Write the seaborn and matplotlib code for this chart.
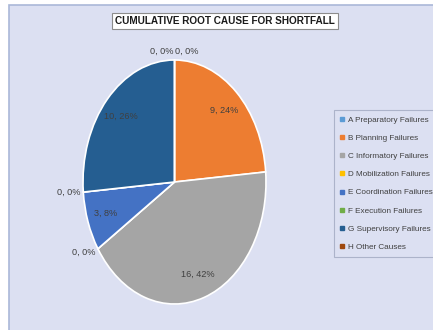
import matplotlib
matplotlib.use("Agg")
import matplotlib.pyplot as plt
import seaborn as sns
import numpy as np
from matplotlib.patches import Rectangle
from matplotlib.lines import Line2D

categories = ["A Preparatory Failures", "B Planning Failures", "C Informatory Failures",
              "D Mobilization Failures", "E Coordination Failures", "F Execution Failures",
              "G Supervisory Failures", "H Other Causes"]
values = [0, 9, 16, 0, 3, 0, 10, 0]
title = "CUMULATIVE ROOT CAUSE FOR SHORTFALL"

colors = ["#5B9BD5", "#ED7D31", "#A5A5A5", "#FFC000", "#4472C4", "#70AD47", "#255E91", "#9E480E"]

sns.set_theme(style="white")
plt.rcParams["font.family"] = ["Liberation Sans", "DejaVu Sans"]

W, H = 433, 330
fig = plt.figure(figsize=(W / 100, H / 100), dpi=100)
fig.patch.set_facecolor("white")
bg = Rectangle((9 / W, -0.01), 1.0, (H - 5) / H + 0.01, transform=fig.transFigure,
               facecolor="#DCE0F2", edgecolor="#AAB8D8", lw=1.2, zorder=-10)
fig.patches.append(bg)

ax = fig.add_axes([83 / W, 26 / H, 183 / W, 244 / H])
wedges, _ = ax.pie(values, colors=colors, startangle=90, counterclock=False,
                   wedgeprops=dict(edgecolor="white", linewidth=1.2))
ax.set_aspect("auto")
ax.set_xlim(-1, 1)
ax.set_ylim(-1, 1)
ax.axis("off")

lab_fs = 6.6
total = sum(values)
for i, (w, v) in enumerate(zip(wedges, values)):
    mid = np.deg2rad((w.theta1 + w.theta2) / 2)
    txt = f"{v}, {round(v / total * 100)}%"
    c, s = np.cos(mid), np.sin(mid)
    if v > 0:
        ax.text(0.8 * c, 0.8 * s, txt, ha="center", va="center", fontsize=lab_fs, color="#404040")
    else:
        if abs(c) < 0.05:
            ha = "left" if i == 0 else "right"
            x = 0.01 if i == 0 else -0.01
            ax.text(x, 1.07, txt, ha=ha, va="center", fontsize=lab_fs, color="#404040")
        else:
            ha = "right" if c < 0 else "left"
            ax.text(1.03 * c, 1.06 * s, txt, ha=ha, va="center", fontsize=lab_fs, color="#404040")

fig.text(225 / W, (H - 21) / H, title, ha="center", va="center", fontsize=7.2, fontweight="bold",
         color="#1a1a1a",
         bbox=dict(boxstyle="square,pad=0.3", facecolor="white", edgecolor="#8C8C8C", lw=0.8))

handles = [Line2D([], [], marker="s", linestyle="none", markersize=2.8, color=c) for c in colors]
leg = fig.legend(handles, categories, loc="upper left", bbox_to_anchor=(334 / W, (H - 110) / H),
                 frameon=True, fontsize=5.9, labelspacing=1.27, handlelength=0.5,
                 handletextpad=0.45, borderpad=0.75, borderaxespad=0, fancybox=False,
                 labelcolor="#404040")
leg.get_frame().set_facecolor("#DCE0F2")
leg.get_frame().set_edgecolor("#A0A8C0")
leg.get_frame().set_linewidth(0.8)

fig.savefig("out.png", dpi=100, facecolor=fig.get_facecolor())
